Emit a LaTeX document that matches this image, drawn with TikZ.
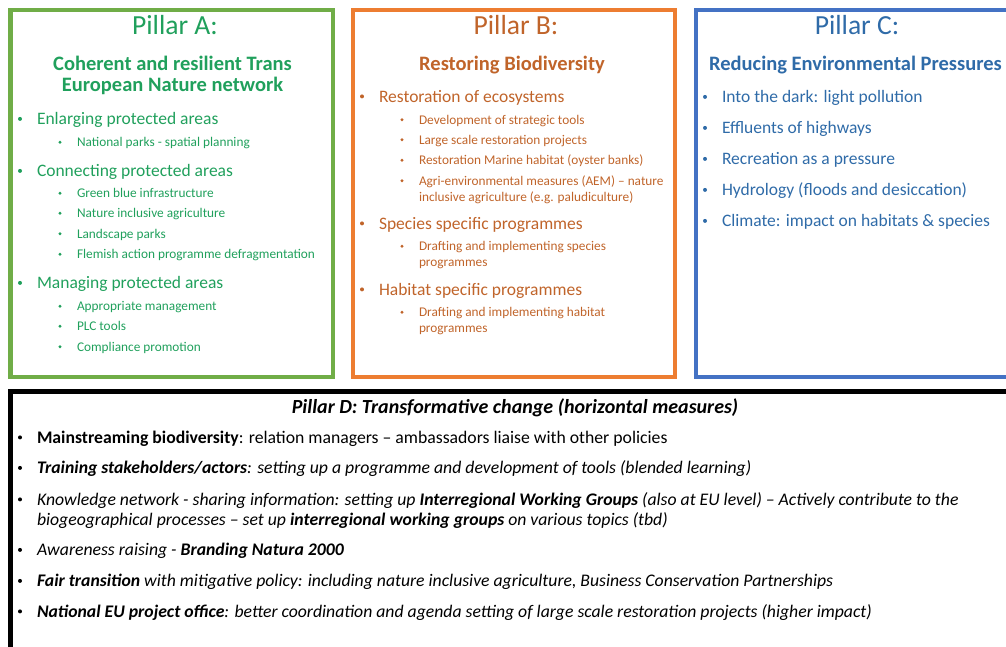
\documentclass[tikz,border=0pt]{standalone}
\usepackage{fontspec}
\setmainfont{Carlito}
\definecolor{greenline}{HTML}{70AD47}
\definecolor{greentext}{HTML}{20A05C}
\definecolor{orangetext}{HTML}{C0642A}
\definecolor{orangeline}{HTML}{ED7D31}
\definecolor{blueline}{HTML}{4472C4}
\definecolor{bluetext}{HTML}{2F6BA8}
\tikzset{
  every node/.style={inner sep=0pt, outer sep=0pt},
  frame/.style={line width=4.5pt},
  ptitle/.style={anchor=base, font=\fontsize{27.6}{30}\selectfont},
  psub/.style={anchor=base, font=\bfseries\fontsize{20.5}{24}\selectfont},
  lvone/.style={anchor=base west, font=\fontsize{17.5}{21}\selectfont},
  lvtwo/.style={anchor=base west, font=\fontsize{13.3}{16}\selectfont},
  dtext/.style={anchor=base west, font=\fontsize{17.7}{21}\selectfont},
  % small round bullets; each sits on the middle of the x-height
  bulone/.style={circle, fill, minimum size=4pt, yshift=5.6pt},
  bultwo/.style={circle, fill, minimum size=3.2pt, yshift=4.3pt},
  dbul/.style={circle, fill, minimum size=4pt, yshift=5.6pt},
}
\begin{document}
\begin{tikzpicture}[x=1pt, y=-1pt]
\useasboundingbox (0,0) rectangle (1006,646);
\clip (0,0) rectangle (1006,646);

% ---------- frames ----------
\draw[frame, greenline] (10.5,10) rectangle (333,377);
\draw[frame, orangeline] (353,10) rectangle (675,377);
\draw[frame, blueline] (696,10) rectangle (1020,377);
\draw[frame, black] (10.5,391.5) rectangle (1020,670);

% ---------- Pillar A ----------
\begin{scope}[greentext]
\node[ptitle] (atitle) at (175,34) {Pillar A:};
\node[psub] (asub1) at (172.5,70) {Coherent and resilient Trans};
\node[psub] (asub2) at (172.5,91) {European Nature network};
\node[bulone] (ab1) at (20,124.5) {};
\node[lvone] (a1) at (37,124.5) {Enlarging protected areas};
\node[bultwo] (ab11) at (60,146.5) {};
\node[lvtwo] (a11) at (77,146.5) {National parks - spatial planning};
\node[bulone] (ab2) at (20,176.5) {};
\node[lvone] (a2) at (37,176.5) {Connecting protected areas};
\node[bultwo] (ab21) at (60,197.5) {};
\node[lvtwo] (a21) at (77,197.5) {Green blue infrastructure};
\node[bultwo] (ab22) at (60,217.5) {};
\node[lvtwo] (a22) at (77,217.5) {Nature inclusive agriculture};
\node[bultwo] (ab23) at (60,238) {};
\node[lvtwo] (a23) at (77,238) {Landscape parks};
\node[bultwo] (ab24) at (60,258.5) {};
\node[lvtwo] (a24) at (77,258.5) {Flemish action programme defragmentation};
\node[bulone] (ab3) at (20,288.5) {};
\node[lvone] (a3) at (37,288.5) {Managing protected areas};
\node[bultwo] (ab31) at (60,310.5) {};
\node[lvtwo] (a31) at (77,310.5) {Appropriate management};
\node[bultwo] (ab32) at (60,330.5) {};
\node[lvtwo] (a32) at (77,330.5) {PLC tools};
\node[bultwo] (ab33) at (60,351) {};
\node[lvtwo] (a33) at (77,351) {Compliance promotion};
\end{scope}

% ---------- Pillar B ----------
\begin{scope}[orangetext]
\node[ptitle] (btitle) at (516,34) {Pillar B:};
\node[psub] (bsub) at (512,70) {Restoring Biodiversity};
\node[bulone] (bb1) at (362,102) {};
\node[lvone] (b1) at (379,102) {Restoration of ecosystems};
\node[bultwo] (bb11) at (402,124) {};
\node[lvtwo] (b11) at (419,124) {Development of strategic tools};
\node[bultwo] (bb12) at (402,144) {};
\node[lvtwo] (b12) at (419,144) {Large scale restoration projects};
\node[bultwo] (bb13) at (402,164.5) {};
\node[lvtwo] (b13) at (419,164.5) {Restoration Marine habitat (oyster banks)};
\node[bultwo] (bb14) at (402,185) {};
\node[lvtwo] (b14) at (419,185) {Agri-environmental measures (AEM) – nature};
\node[lvtwo] (b14b) at (419,201) {inclusive agriculture (e.g. paludiculture)};
\node[bulone] (bb2) at (362,229) {};
\node[lvone] (b2) at (379,229) {Species specific programmes};
\node[bultwo] (bb21) at (402,250.5) {};
\node[lvtwo] (b21) at (419,250.5) {Drafting and implementing species};
\node[lvtwo] (b21b) at (419,266.5) {programmes};
\node[bulone] (bb3) at (362,295) {};
\node[lvone] (b3) at (379,295) {Habitat specific programmes};
\node[bultwo] (bb31) at (402,316.5) {};
\node[lvtwo] (b31) at (419,316.5) {Drafting and implementing habitat};
\node[lvtwo] (b31b) at (419,332.5) {programmes};
\end{scope}

% ---------- Pillar C ----------
\begin{scope}[bluetext]
\node[ptitle] (ctitle) at (857,34) {Pillar C:};
\node[psub] (csub) at (855.5,70) {Reducing Environmental Pressures};
\node[bulone] (cb1) at (705,102.5) {};
\node[lvone] (c1) at (722,102.5) {Into the dark: light pollution};
\node[bulone] (cb2) at (705,133.5) {};
\node[lvone] (c2) at (722,133.5) {Effluents of highways};
\node[bulone] (cb3) at (705,164.5) {};
\node[lvone] (c3) at (722,164.5) {Recreation as a pressure};
\node[bulone] (cb4) at (705,195.5) {};
\node[lvone] (c4) at (722,195.5) {Hydrology (floods and desiccation)};
\node[bulone] (cb5) at (705,226.5) {};
\node[lvone] (c5) at (722,226.5) {Climate: impact on habitats \& species};
\end{scope}

% ---------- Pillar D ----------
\node[anchor=base, font=\bfseries\itshape\fontsize{20}{24}\selectfont] (dtitle) at (515,413.5)
  {Pillar D: Transformative change (horizontal measures)};
\node[dbul] (db1) at (20,443) {};
\node[dtext] (d1) at (37,443) {\textbf{Mainstreaming biodiversity}: relation managers – ambassadors liaise with other policies};
\node[dbul] (db2) at (20,473.5) {};
\node[dtext] (d2) at (37,473.5) {\itshape\textbf{Training stakeholders/actors}: setting up a programme and development of tools (blended learning)};
\node[dbul] (db3) at (20,505) {};
\node[dtext] (d3) at (37,505) {\itshape Knowledge network - sharing information: setting up \textbf{Interregional Working Groups} (also at EU level) – Actively contribute to the};
\node[dtext] (d3b) at (37,525.5) {\itshape biogeographical processes – set up \textbf{interregional working groups} on various topics (tbd)};
\node[dbul] (db4) at (20,555.5) {};
\node[dtext] (d4) at (37,555.5) {\itshape Awareness raising - \textbf{Branding Natura 2000}};
\node[dbul] (db5) at (20,586.5) {};
\node[dtext] (d5) at (37,586.5) {\itshape\textbf{Fair transition} with mitigative policy: including nature inclusive agriculture, Business Conservation Partnerships};
\node[dbul] (db6) at (20,617) {};
\node[dtext] (d6) at (37,617) {\itshape\textbf{National EU project office}: better coordination and agenda setting of large scale restoration projects (higher impact)};
\end{tikzpicture}
\end{document}
